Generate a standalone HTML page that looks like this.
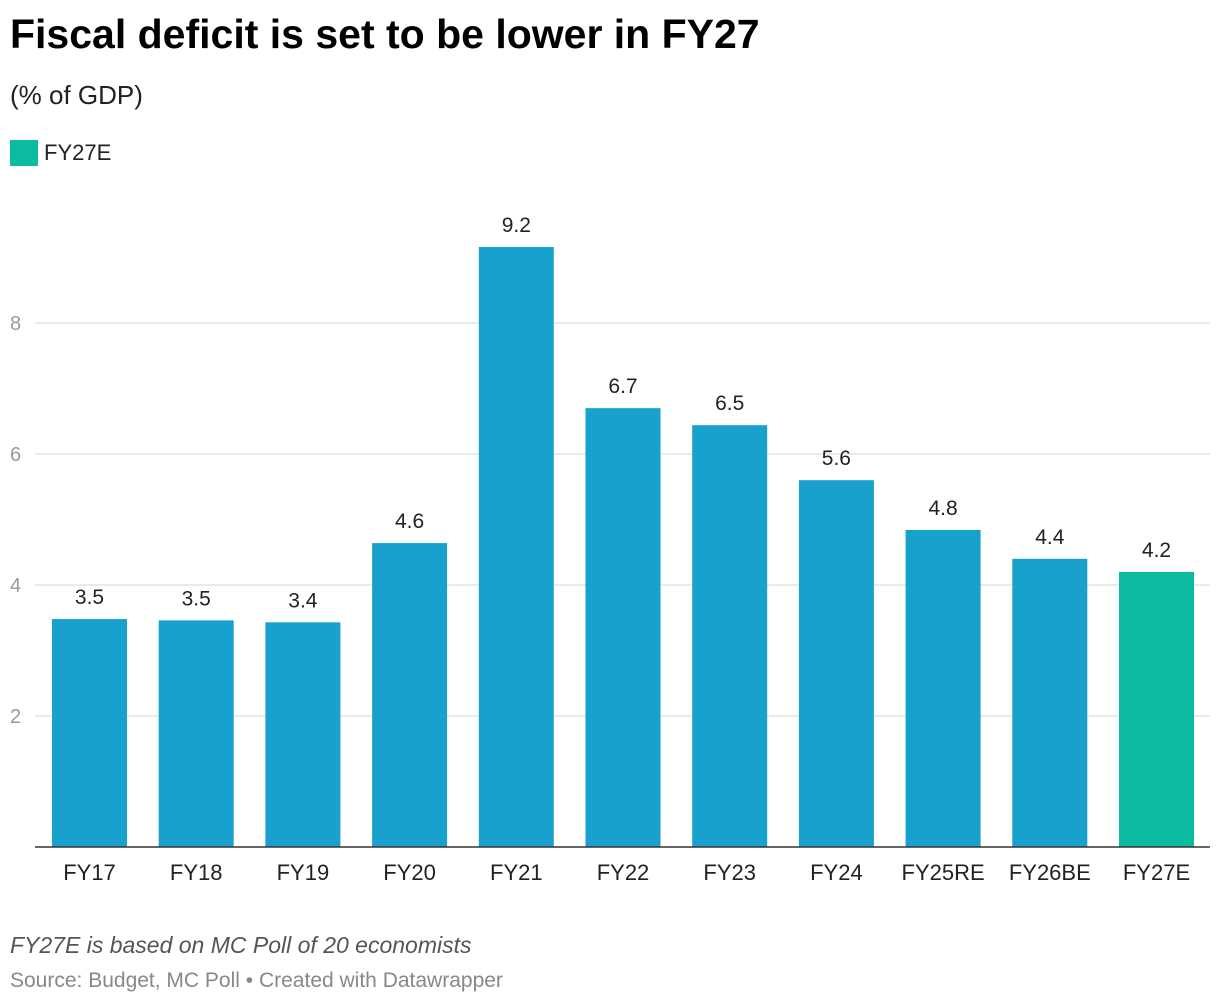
<!DOCTYPE html>
<html><head><meta charset="utf-8"><style>
body{margin:0;width:1220px;height:1006px;background:#fff;font-family:"Liberation Sans",Roboto,sans-serif;overflow:hidden;position:relative}
.t{position:absolute;white-space:nowrap}
</style></head><body>
<div class="t" style="left:10px;top:11px;font-size:41px;font-weight:bold;color:#000">Fiscal deficit is set to be lower in FY27</div>
<div class="t" style="left:10px;top:80px;font-size:26px;color:#222">(% of GDP)</div>
<div style="position:absolute;left:10px;top:140px;width:28px;height:26px;background:#0bbba0"></div>
<div class="t" style="left:44px;top:140px;font-size:22px;color:#222">FY27E</div>
<svg id="chart" width="1220" height="1006" style="position:absolute;left:0;top:0"></svg>
<div class="t" style="left:10px;top:932px;font-size:23px;font-style:italic;color:#555">FY27E is based on MC Poll of 20 economists</div>
<div class="t" style="left:10px;top:969px;font-size:21px;color:#888">Source: Budget, MC Poll • Created with Datawrapper</div>
<script>
const categories=["FY17","FY18","FY19","FY20","FY21","FY22","FY23","FY24","FY25RE","FY26BE","FY27E"];
const values=[3.48,3.46,3.43,4.64,9.16,6.7,6.44,5.6,4.84,4.4,4.2];
const labels=["3.5","3.5","3.4","4.6","9.2","6.7","6.5","5.6","4.8","4.4","4.2"];
const ticks=[2,4,6,8];
const ns="http://www.w3.org/2000/svg";
const svg=document.getElementById('chart');
const y0=847,pxPerUnit=65.5,x0=52,step=106.7,bw=75;
const y=v=>y0-v*pxPerUnit;
const x=i=>x0+i*step;
function mk(t,a){const e=document.createElementNS(ns,t);for(const k in a)e.setAttribute(k,a[k]);svg.appendChild(e);return e;}
ticks.forEach(t=>{
 const g=mk('line',{x1:35,x2:1210,y1:y(t),y2:y(t),stroke:'#e3e3e3','stroke-width':1.5});
 
 
 const tx=mk('text',{x:10,y:y(t)+7,'font-size':20,fill:'#999','font-family':'Liberation Sans, sans-serif'});
 tx.textContent=t;
 
 
});
categories.forEach((c,i)=>{
 const r=mk('rect',{x:x(i),y:y(values[i]),width:bw,height:values[i]*pxPerUnit,fill:i==categories.length-1?'#0bbba0':'#18a1cd'});
 
 
 const v=mk('text',{x:x(i)+bw/2,y:y(values[i])-15,'font-size':21,fill:'#222','text-anchor':'middle','font-family':'Liberation Sans, sans-serif'});
 v.textContent=labels[i];
 
 
 const l=mk('text',{x:x(i)+bw/2,y:880,'font-size':22,fill:'#222','text-anchor':'middle','font-family':'Liberation Sans, sans-serif'});
 l.textContent=c;
 
 
});
const ax=mk('line',{x1:35,x2:1210,y1:y0,y2:y0,stroke:'#333','stroke-width':1.5});


</script>
</body></html>
